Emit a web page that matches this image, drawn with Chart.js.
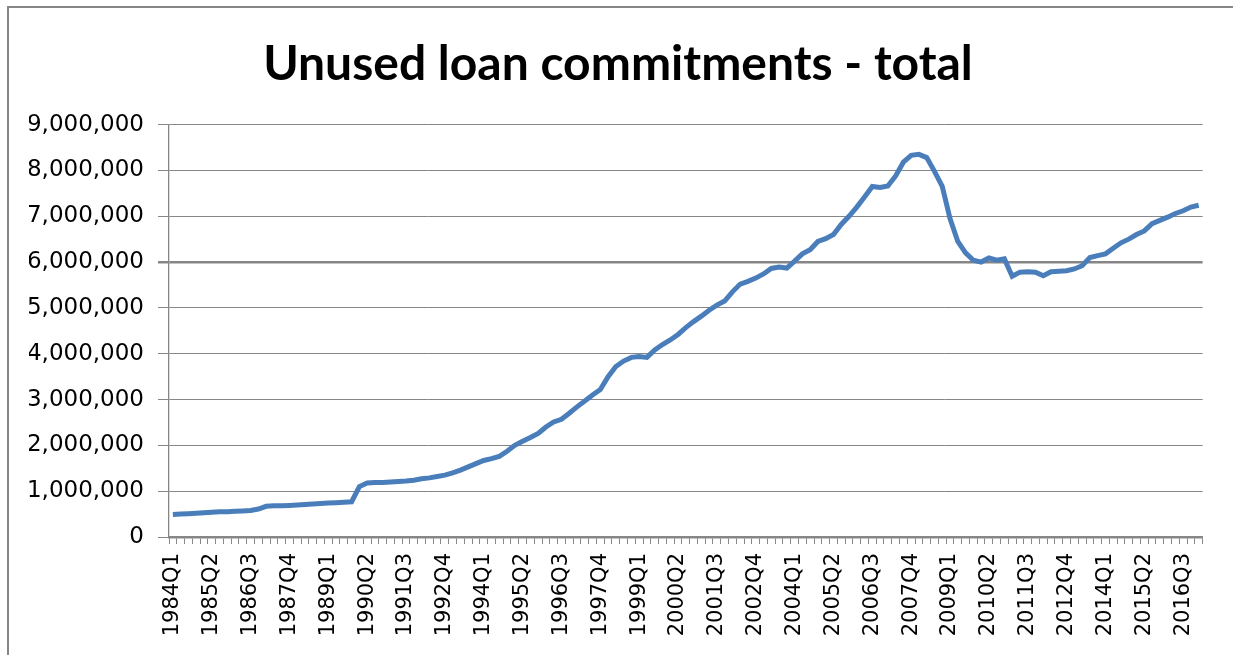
<!DOCTYPE html>
<html>
<head>
<meta charset="utf-8">
<script src="https://cdn.jsdelivr.net/npm/chart.js@4/dist/chart.umd.min.js"></script>
<style>
    html, body { margin: 0; padding: 0; background: #fff; overflow: hidden; }
    #wrap { position: relative; width: 1233px; height: 655px; }
    #frame {
        position: absolute; left: 7px; top: 6px; width: 1240px; height: 670px;
        border: 2px solid #868686; box-sizing: border-box;
    }
    canvas { position: absolute; left: 0; top: 0; }
</style>
</head>
<body>
<div id="wrap">
    <div id="frame"></div>
    <canvas id="loanChart" width="1233" height="655"></canvas>
</div>
<script>
// Quarters 1984Q1 .. 2017Q1
const startYear = 1984;
const quarterCount = 133;
const quarters = [];
for (let i = 0; i < quarterCount; i++) {
    quarters.push((startYear + Math.floor(i / 4)) + "Q" + (i % 4 + 1));
}

// Unused loan commitments (millions)
const commitmentsM = [
    0.49, 0.50, 0.51, 0.52, 0.53, 0.54, 0.55, 0.55, 0.56, 0.57,
    0.58, 0.61, 0.67, 0.68, 0.68, 0.69, 0.70, 0.71, 0.72, 0.73,
    0.74, 0.75, 0.76, 0.77, 1.10, 1.18, 1.19, 1.19, 1.20, 1.21,
    1.22, 1.24, 1.27, 1.29, 1.32, 1.35, 1.40, 1.46, 1.53, 1.60,
    1.67, 1.71, 1.76, 1.87, 2.00, 2.09, 2.17, 2.26, 2.40, 2.51,
    2.57, 2.70, 2.84, 2.97, 3.10, 3.22, 3.50, 3.72, 3.84, 3.92,
    3.94, 3.92, 4.08, 4.20, 4.30, 4.42, 4.57, 4.70, 4.82, 4.95,
    5.06, 5.15, 5.35, 5.52, 5.58, 5.65, 5.74, 5.86, 5.89, 5.87,
    6.02, 6.18, 6.27, 6.45, 6.51, 6.60, 6.82, 7.00, 7.20, 7.42,
    7.65, 7.63, 7.66, 7.88, 8.18, 8.33, 8.35, 8.28, 7.98, 7.65,
    6.95, 6.45, 6.20, 6.04, 6.00, 6.09, 6.04, 6.07, 5.69, 5.78,
    5.79, 5.78, 5.70, 5.79, 5.80, 5.81, 5.85, 5.92, 6.10, 6.14,
    6.18, 6.30, 6.42, 6.50, 6.60, 6.68, 6.84, 6.91, 6.98, 7.06,
    7.12, 7.20, 7.24
];
const commitments = commitmentsM.map(v => Math.round(v * 1000000));

const yTicks = [0, 1000000, 2000000, 3000000, 4000000, 5000000, 6000000, 7000000, 8000000, 9000000];
const labelEvery = 5;

const gridGray = "#868686";
Chart.defaults.font.family = "'DejaVu Sans', sans-serif";
Chart.defaults.color = "#000";

const ctx = document.getElementById("loanChart").getContext("2d");

new Chart(ctx, {
    type: "line",
    data: {
        labels: quarters,
        datasets: [{
            label: "Unused loan commitments - total",
            data: commitments,
            borderColor: "#4a7ebb",
            borderWidth: 5,
            pointRadius: 0,
            tension: 0,
            fill: false
        }]
    },
    options: {
        responsive: false,
        animation: false,
        // left/right padding also centres the title where the original has it
        layout: { padding: { left: 29, right: 26, top: 0, bottom: 0 } },
        plugins: {
            legend: { display: false },
            tooltip: { enabled: false },
            title: {
                display: true,
                text: "Unused loan commitments - total",
                color: "#000",
                font: { family: "Lato, 'DejaVu Sans', sans-serif", size: 48, weight: "bold", lineHeight: 1.2 },
                padding: { top: 36, bottom: 31 }
            }
        },
        scales: {
            x: {
                offset: true,
                grid: {
                    offset: true,
                    drawOnChartArea: false,
                    drawTicks: true,
                    tickLength: 7,
                    color: gridGray
                },
                border: { color: gridGray, width: 2.5 },
                ticks: {
                    autoSkip: false,
                    maxRotation: 90,
                    minRotation: 90,
                    padding: 9,
                    font: { size: 21 },
                    callback: (v, i) => (i % labelEvery === 0 ? quarters[i] : "")
                },
                afterFit: s => { s.height = 655 - 537; }
            },
            y: {
                min: 0,
                max: 9000000,
                afterBuildTicks: s => { s.ticks = yTicks.map(v => ({ value: v })); },
                grid: {
                    color: gridGray,
                    lineWidth: c => (c.tick && c.tick.value === 6000000 ? 2.5 : 1),
                    tickLength: 11
                },
                border: { color: gridGray, width: 1.3 },
                ticks: {
                    padding: 14,
                    font: { size: 23 },
                    callback: v => Number(v).toLocaleString("en-US")
                },
                afterFit: s => { s.width = 140; }
            }
        }
    }
});
</script>
</body>
</html>
